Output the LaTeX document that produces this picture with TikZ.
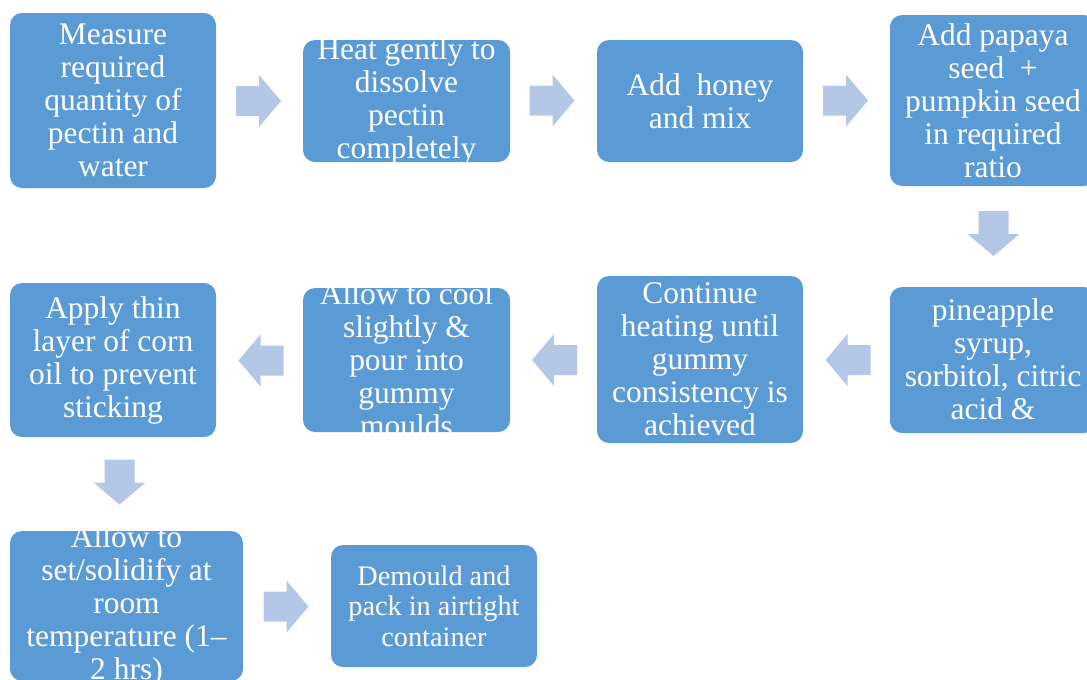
\documentclass[tikz,border=0pt]{standalone}
\usepackage{fontspec}
\setmainfont{Liberation Serif}
\definecolor{boxblue}{HTML}{5B9BD5}
\definecolor{arrowblue}{RGB}{180,199,231}
\tikzset{
  stepbox/.style={draw=none, fill=boxblue, rounded corners=12*0.75pt, inner sep=0pt},
  steptext/.style={text=white, align=center, inner sep=0pt, font=\fontsize{23.6}{24.75}\selectfont},
  smalltext/.style={text=white, align=center, inner sep=0pt, font=\fontsize{21.2}{22.9}\selectfont},
  blockarrow/.pic={\fill[arrowblue] (-22.5,-15) -- (0.5,-15) -- (0.5,-26) -- (22.5,0) -- (0.5,26) -- (0.5,15) -- (-22.5,15) -- cycle;}
}
\newcommand{\stepnode}[6]{% name, x, y, w, h, style+text
  \node[stepbox, minimum width=#4*0.75pt, minimum height=#5*0.75pt] (#1) at (#2,#3) {};
  \begin{scope}
    \clip[rounded corners=12*0.75pt] (#1.south west) rectangle (#1.north east);
    #6
  \end{scope}
}
\begin{document}
\begin{tikzpicture}[x=0.75pt, y=-0.75pt]
\useasboundingbox (0,0) rectangle (1087,679);
\clip (0,0) rectangle (1087,679);

\stepnode{b1}{113}{100.5}{206}{175}{\node[steptext] (t1) at (b1.center) {Measure\\required\\quantity of\\pectin and\\water};}
\stepnode{b2}{406.5}{101}{207}{122}{\node[steptext] (t2) at (b2.center) {Heat gently to\\dissolve\\pectin\\completely};}
\stepnode{b3}{700}{101}{206}{122}{\node[steptext] (t3) at (b3.center) {Add\ \ honey\\and mix};}
\stepnode{b4}{993}{100.5}{206}{171}{\node[steptext] (t4) at (b4.center) {Add papaya\\seed\ \ +\\pumpkin seed\\in required\\ratio};}
\stepnode{b5}{993}{360}{206}{146}{\node[steptext] (t5) at (993,359) {pineapple\\syrup,\\sorbitol, citric\\acid \&};}
\stepnode{b6}{700}{359.5}{206}{167}{\node[steptext] (t6) at (b6.center) {Continue\\heating until\\gummy\\consistency is\\achieved};}
\stepnode{b7}{406.5}{360}{207}{144}{\node[steptext] (t7) at (b7.center) {Allow to cool\\slightly \&\\pour into\\gummy\\moulds};}
\stepnode{b8}{113}{360}{206}{154}{\node[steptext] (t8) at (b8.center) {Apply thin\\layer of corn\\oil to prevent\\sticking};}
\stepnode{b9}{126.5}{606}{233}{150}{\node[steptext] (t9) at (b9.center) {Allow to\\set/solidify at\\room\\temperature (1–\\2 hrs)};}
\stepnode{b10}{434}{606}{206}{122}{\node[smalltext] (t10) at (b10.center) {Demould and\\pack in airtight\\container};}

\pic (a1) at (258.5,101) {blockarrow};
\pic (a2) at (552,100.5) {blockarrow};
\pic (a3) at (845.5,100.5) {blockarrow};
\pic[rotate=-90] (a4) at (993.5,233.5) {blockarrow};
\pic[rotate=180] (a5) at (848,360) {blockarrow};
\pic[rotate=180] (a6) at (554.5,360) {blockarrow};
\pic[rotate=180] (a7) at (261,360.5) {blockarrow};
\pic[rotate=-90] (a8) at (119.5,482) {blockarrow};
\pic (a9) at (286,606.5) {blockarrow};
\end{tikzpicture}
\end{document}
